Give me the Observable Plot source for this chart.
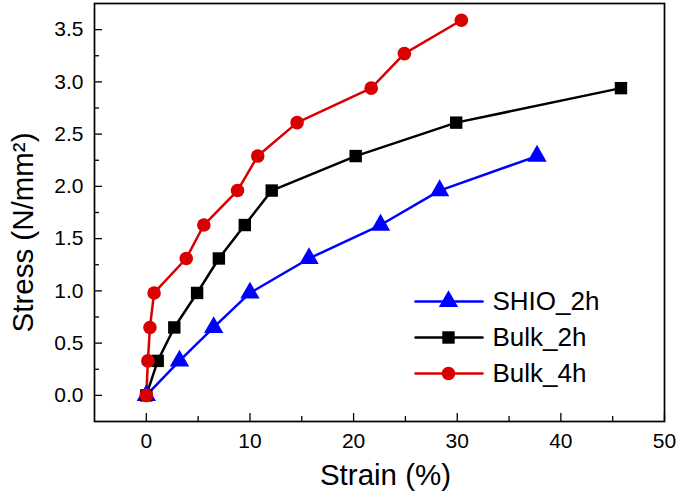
<!DOCTYPE html>
<html>
<head>
<meta charset="utf-8">
<script src="https://cdn.jsdelivr.net/npm/d3@7"></script>
<script src="https://cdn.jsdelivr.net/npm/@observablehq/plot@0.6"></script>
<style>
  html, body { margin: 0; padding: 0; background: #fff; }
  #chart svg { display: block; }
</style>
</head>
<body>
<div id="chart"></div>
<script>
// ---- data ----
const seriesNames = ["SHIO_2h", "Bulk_2h", "Bulk_4h"];
const seriesColors = ["#0000ff", "#000000", "#d80000"];
const seriesSymbols = ["triangle", "square", "circle"];
const seriesR = [7.2, 7.0, 6.8];

const shioStrain = [0, 3.2, 6.5, 10.0, 15.7, 22.6, 28.3, 37.7];
const shioStress = [0, 0.33, 0.65, 0.98, 1.31, 1.63, 1.96, 2.29];

const bulk2Strain = [0, 1.1, 2.7, 4.9, 7.0, 9.5, 12.1, 20.2, 29.9, 45.8];
const bulk2Stress = [0, 0.33, 0.65, 0.98, 1.31, 1.63, 1.96, 2.29, 2.61, 2.94];

const bulk4Strain = [0, 0.15, 0.35, 0.75, 3.85, 5.55, 8.8, 10.75, 14.55, 21.7, 24.9, 30.4];
const bulk4Stress = [0, 0.33, 0.65, 0.98, 1.31, 1.63, 1.96, 2.29, 2.61, 2.94, 3.27, 3.59];

const xMajorTicks = [0, 10, 20, 30, 40, 50];
const xMinorTicks = [5, 15, 25, 35, 45];
const yMajorTicks = [0, 0.5, 1.0, 1.5, 2.0, 2.5, 3.0, 3.5];
const yMinorTicks = [0.25, 0.75, 1.25, 1.75, 2.25, 2.75, 3.25];
const xDomain = [-5, 50];
const yDomain = [-0.25, 3.75];
const xTitle = "Strain (%)";
const yTitle = "Stress (N/mm²)";

// ---- build table ----
const strains = [shioStrain, bulk2Strain, bulk4Strain];
const stresses = [shioStress, bulk2Stress, bulk4Stress];
const rows = [];
seriesNames.forEach((name, i) => {
  strains[i].forEach((x, j) => rows.push({series: name, strain: x, stress: stresses[i][j]}));
});

const W = 677, H = 492;
const mL = 94, mR = 13, mT = 3, mB = 71;
const innerW = W - mL - mR, innerH = H - mT - mB;
const font = "'Liberation Sans', Arial, sans-serif";

const lineShape = { draw(context, l) { context.moveTo(0, 0); context.lineTo(0, -l); } };

const marks = [];
// series lines + markers
seriesNames.forEach((name, i) => {
  const d = rows.filter(r => r.series === name);
  marks.push(Plot.line(d, {x: "strain", y: "stress", stroke: seriesColors[i], strokeWidth: 2.5}));
});
seriesNames.forEach((name, i) => {
  const d = rows.filter(r => r.series === name);
  marks.push(Plot.dot(d, {x: "strain", y: "stress", fill: seriesColors[i], stroke: "none",
    symbol: seriesSymbols[i], r: seriesR[i]}));
});

// inward ticks (bottom and left only)
marks.push(Plot.tickX(xMajorTicks, {x: d => d, insetTop: innerH - 8, stroke: "#000", strokeWidth: 1.3}));
marks.push(Plot.tickX(xMinorTicks, {x: d => d, insetTop: innerH - 5, stroke: "#000", strokeWidth: 1.3}));
marks.push(Plot.tickY(yMajorTicks, {y: d => d, insetRight: innerW - 8, stroke: "#000", strokeWidth: 1.3}));
marks.push(Plot.tickY(yMinorTicks, {y: d => d, insetRight: innerW - 5, stroke: "#000", strokeWidth: 1.3}));

// axes labels
marks.push(Plot.axisX({ticks: xMajorTicks, tickSize: 0, tickPadding: 12, fontSize: 21, label: null,
  tickFormat: d => String(d)}));
marks.push(Plot.axisY({ticks: yMajorTicks, tickSize: 0, tickPadding: 11, fontSize: 21, label: null,
  tickFormat: d => d.toFixed(1)}));

// frame
marks.push(Plot.frame({stroke: "#000", strokeWidth: 1.7}));

// axis titles
marks.push(Plot.text([xTitle], {frameAnchor: "bottom", text: d => d, dx: 6, dy: 54, fontSize: 29.5,
  textAnchor: "middle", lineAnchor: "middle"}));
marks.push(Plot.text([yTitle], {frameAnchor: "left", text: d => d, dx: -71, dy: 20, rotate: -90, fontSize: 29.5,
  textAnchor: "middle", lineAnchor: "middle"}));

// legend
const legendRowDy = [298, 334, 370];
seriesNames.forEach((name, i) => {
  marks.push(Plot.vector([name], {frameAnchor: "top-left", dx: 321, dy: legendRowDy[i], rotate: 90, length: 67,
    anchor: "start", shape: lineShape, stroke: seriesColors[i], strokeWidth: 2.5}));
  marks.push(Plot.dot([name], {frameAnchor: "top-left", dx: 354, dy: legendRowDy[i], symbol: seriesSymbols[i],
    r: seriesR[i], fill: seriesColors[i], stroke: "none"}));
  marks.push(Plot.text([name], {frameAnchor: "top-left", dx: 398, dy: legendRowDy[i], text: d => d,
    textAnchor: "start", lineAnchor: "middle", fontSize: 26, fill: "#000"}));
});

const chart = Plot.plot({
  width: W, height: H,
  marginLeft: mL, marginRight: mR, marginTop: mT, marginBottom: mB,
  style: {fontFamily: font, color: "#000", background: "#fff", overflow: "visible"},
  x: {domain: xDomain},
  y: {domain: yDomain},
  marks
});
document.getElementById("chart").appendChild(chart);
</script>
</body>
</html>
